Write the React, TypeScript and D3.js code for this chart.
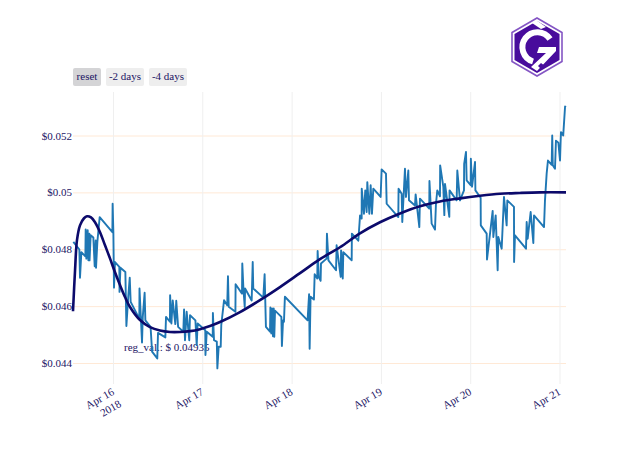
import { useEffect, useRef } from "react";
import * as d3 from "d3";

// hours after Apr 16 2018 00:00 UTC, price in $
const priceSeries: [number, number][] = [
  [-10.66, 0.04826], [-9.04, 0.04799], [-8.87, 0.047], [-8.5, 0.0479], [-7.43, 0.04775], [-7.34, 0.0487],
  [-7.16, 0.04767], [-6.8, 0.04867], [-6.62, 0.04761], [-6.36, 0.04855], [-6.3, 0.04761], [-6.0, 0.04849],
  [-5.28, 0.04841], [-4.92, 0.0474], [-4.65, 0.04831], [-4.56, 0.04735], [-4.2, 0.04826], [-3.58, 0.04913],
  [-0.17, 0.0486], [-0.1, 0.0496], [0.1, 0.0486], [0.27, 0.04665], [0.54, 0.04755], [1.7, 0.04738],
  [1.75, 0.0465], [2.0, 0.04735], [3.32, 0.0472], [3.6, 0.0453], [4.1, 0.04633], [4.5, 0.047],
  [4.75, 0.04615], [7.07, 0.04556], [7.12, 0.04662], [7.8, 0.04472], [8.0, 0.04562], [8.5, 0.04647],
  [8.7, 0.0455], [10.1, 0.04527], [10.5, 0.0444], [11.9, 0.04416], [12.1, 0.04506], [14.07, 0.0449],
  [14.25, 0.04562], [15.3, 0.04545], [15.35, 0.04638], [15.7, 0.04539], [16.05, 0.0462], [16.75, 0.04537],
  [17.0, 0.04619], [17.5, 0.04527], [18.9, 0.0451], [19.1, 0.04588], [19.35, 0.0448], [19.8, 0.0458],
  [20.5, 0.0448], [20.7, 0.04568], [22.15, 0.0455], [22.5, 0.04463], [22.75, 0.04539], [24.8, 0.04515],
  [24.85, 0.04428], [25.2, 0.0451], [26.8, 0.04492], [26.85, 0.04576], [27.15, 0.0448], [27.9, 0.04475],
  [28.05, 0.04381], [28.4, 0.04457], [28.95, 0.04457], [29.1, 0.04533], [29.85, 0.04621], [30.7, 0.04603],
  [30.9, 0.04705], [31.1, 0.04598], [32.9, 0.0458], [32.95, 0.04677], [34.67, 0.04644], [34.75, 0.0475],
  [35.05, 0.04662], [35.4, 0.04597], [35.5, 0.04662], [37.27, 0.0462], [37.55, 0.04755], [37.7, 0.04662],
  [40.4, 0.0463], [40.75, 0.04712], [41.1, 0.04527], [42.2, 0.0451], [42.3, 0.04595], [42.55, 0.04504],
  [42.75, 0.04592], [43.0, 0.04494], [43.2, 0.04592], [43.35, 0.04492], [43.55, 0.04584], [45.25, 0.04562],
  [45.4, 0.0446], [45.7, 0.0455], [45.95, 0.04545], [46.2, 0.04633], [52.3, 0.0455], [52.7, 0.04642],
  [52.85, 0.0445], [53.1, 0.04633], [54.0, 0.04623], [54.2, 0.04712], [54.9, 0.04697], [55.0, 0.04794],
  [55.3, 0.04703], [55.8, 0.04689], [55.9, 0.0475], [57.4, 0.04767], [57.5, 0.04855], [57.9, 0.04761],
  [59.95, 0.04726], [60.1, 0.04814], [61.2, 0.04703], [61.3, 0.04796], [61.75, 0.04697], [61.9, 0.0479],
  [64.15, 0.04761], [64.2, 0.04855], [65.93, 0.0483], [66.4, 0.04919], [66.83, 0.04908], [66.85, 0.05013],
  [67.45, 0.04925], [67.8, 0.05007], [68.17, 0.04931], [68.35, 0.05036], [68.9, 0.04925], [69.25, 0.05025],
  [69.6, 0.04925], [69.96, 0.05013], [71.93, 0.04984], [72.2, 0.05081], [73.37, 0.05066], [73.55, 0.0496],
  [76.68, 0.04913], [76.75, 0.05013], [77.58, 0.04995], [77.75, 0.04896], [78.47, 0.05083], [78.74, 0.04984],
  [79.37, 0.05077], [79.55, 0.04972], [81.16, 0.04954], [81.34, 0.04993], [82.33, 0.04878], [82.5, 0.04978],
  [85.0, 0.04943], [85.05, 0.0504], [85.64, 0.0489], [86.54, 0.04869], [86.8, 0.0496], [87.16, 0.05007],
  [87.88, 0.04986], [87.93, 0.05095], [88.78, 0.05019], [89.05, 0.0492], [89.23, 0.0503], [90.39, 0.04914],
  [90.45, 0.05007], [92.36, 0.04972], [92.54, 0.05077], [93.26, 0.04972], [94.33, 0.05007], [94.38, 0.051],
  [94.87, 0.05142], [95.05, 0.05042], [96.13, 0.05025], [96.18, 0.05118], [96.5, 0.0502], [97.3, 0.05107],
  [97.4, 0.05007], [98.81, 0.04981], [98.85, 0.04884], [100.43, 0.04855], [100.52, 0.04764], [102.04, 0.04935],
  [102.22, 0.04843], [102.85, 0.04919], [103.38, 0.04726], [103.56, 0.04843], [104.46, 0.04802], [105.08, 0.04984],
  [105.8, 0.04884], [105.98, 0.04972], [107.77, 0.04949], [107.8, 0.04755], [108.04, 0.04849], [111.0, 0.04802],
  [111.18, 0.04896], [111.45, 0.04837], [112.25, 0.04931], [112.97, 0.04822], [113.15, 0.04919], [115.84, 0.04878],
  [116.1, 0.04972], [116.55, 0.05066], [116.9, 0.05112], [117.9, 0.05097], [118.05, 0.052], [118.2, 0.05095],
  [118.79, 0.05083], [119.05, 0.05182], [119.7, 0.05175], [120.14, 0.05112], [120.3, 0.05177], [120.4, 0.05212],
  [121.0, 0.052], [121.5, 0.05302], [121.75, 0.053],
];

const regSeries: [number, number][] = [
  [-10.75, 0.04582], [-10.2, 0.04726], [-9.68, 0.04832], [-8.87, 0.04884], [-7.79, 0.04909], [-6.99, 0.04916],
  [-5.91, 0.04912], [-4.84, 0.04895], [-3.49, 0.0486], [-2.15, 0.04814], [-0.81, 0.04768], [0.54, 0.04719],
  [1.88, 0.04674], [3.23, 0.04632], [4.57, 0.04597], [7.26, 0.04551], [9.94, 0.04526], [12.63, 0.04514],
  [15.32, 0.04509], [18.0, 0.04509], [20.69, 0.04512], [23.38, 0.04519], [26.07, 0.0453], [28.76, 0.04544],
  [34.13, 0.04579], [39.5, 0.04621], [44.88, 0.04667], [50.26, 0.04716], [55.63, 0.04765], [61.0, 0.04807],
  [66.38, 0.04856], [71.76, 0.04895], [77.13, 0.04926], [82.5, 0.04951], [87.88, 0.04968], [93.26, 0.04979],
  [98.63, 0.04988], [104.0, 0.04995], [109.38, 0.04998], [114.76, 0.05], [121.75, 0.05],
];

const yTicks = [0.044, 0.046, 0.048, 0.05, 0.052];
const xTickDays = [16, 17, 18, 19, 20, 21];
const buttonLabels = ["reset", "-2 days", "-4 days"];
const regLabel = "reg_val.: $ 0.04935";

const fontFamily = "'Liberation Serif', serif";
const textColor = "#1b1464";

const hourToDate = (h: number) => new Date(Date.UTC(2018, 3, 16) + h * 3600000);

export default function App() {
  const svgRef = useRef<SVGSVGElement>(null);

  useEffect(() => {
    if (!svgRef.current) return;
    const svg = d3.select(svgRef.current);
    svg.selectAll("*").remove();

    const plot = { left: 73, right: 566, top: 92, bottom: 384 };

    const x = d3.scaleUtc()
      .domain([hourToDate(-10.75), hourToDate(121.75)])
      .range([plot.left, plot.right]);
    const y = d3.scaleLinear()
      .domain([0.044, 0.052])
      .range([363, 135.5]);

    // grid + axes
    const yAxis = d3.axisLeft(y)
      .tickValues(yTicks)
      .tickFormat(d => "$" + d)
      .tickSize(-(plot.right - plot.left))
      .tickPadding(1);
    const yG = svg.append("g")
      .attr("transform", `translate(${plot.left},0)`)
      .call(yAxis);
    yG.select(".domain").remove();
    yG.selectAll(".tick line").attr("stroke", "#ffe9d6").attr("stroke-width", 1);
    yG.selectAll("text")
      .attr("fill", textColor)
      .attr("x", -1)
      .style("font-family", fontFamily)
      .style("font-size", "11px");

    const xAxis = d3.axisBottom(x)
      .tickValues(xTickDays.map(d => new Date(Date.UTC(2018, 3, d))))
      .tickFormat(() => "")
      .tickSize(-(plot.bottom - plot.top));
    const xG = svg.append("g")
      .attr("transform", `translate(0,${plot.bottom})`)
      .call(xAxis);
    xG.select(".domain").remove();
    xG.selectAll(".tick line").attr("stroke", "#efefef").attr("stroke-width", 1);

    // rotated tick labels
    const labels = svg.append("g")
      .style("font-family", fontFamily)
      .style("font-size", "11px")
      .attr("fill", textColor);
    xTickDays.forEach(d => {
      const px = x(new Date(Date.UTC(2018, 3, d)));
      const t = labels.append("text")
        .attr("transform", `translate(${px + 2},${plot.bottom + 10}) rotate(-30)`)
        .attr("text-anchor", "end");
      t.append("tspan").attr("x", 0).attr("y", 0).text(`Apr ${d}`);
      if (d === 16) t.append("tspan").attr("x", 0).attr("dy", 14).text("2018");
    });

    // hover label sits under the lines
    svg.append("text")
      .attr("x", x(hourToDate(2.96)))
      .attr("y", y(0.04442))
      .attr("fill", textColor)
      .style("font-family", fontFamily)
      .style("font-size", "11px")
      .text(regLabel);

    const line = d3.line<[number, number]>()
      .x(d => x(hourToDate(d[0])))
      .y(d => y(d[1]));

    svg.append("path")
      .attr("d", line(priceSeries))
      .attr("fill", "none")
      .attr("stroke", "#1f77b4")
      .attr("stroke-width", 1.9)
      .attr("stroke-linejoin", "round");

    svg.append("path")
      .attr("d", line.curve(d3.curveCatmullRom)(regSeries))
      .attr("fill", "none")
      .attr("stroke", "#0c0a6b")
      .attr("stroke-width", 2.6);

    // range buttons
    const btnWidths = [28, 38, 38];
    let bx = 73;
    buttonLabels.forEach((b, i) => {
      const g = svg.append("g").attr("transform", `translate(${bx},68)`);
      g.append("rect")
        .attr("width", btnWidths[i])
        .attr("height", 18)
        .attr("rx", 2)
        .attr("fill", i === 0 ? "#d4d4d6" : "#eeeeee");
      g.append("text")
        .attr("x", btnWidths[i] / 2)
        .attr("y", 12)
        .attr("text-anchor", "middle")
        .attr("fill", textColor)
        .style("font-family", fontFamily)
        .style("font-size", "11px")
        .text(b);
      bx += btnWidths[i] + 5;
    });

    // logo
    const logo = svg.append("g").attr("transform", "translate(537,47)");
    const hex = (w: number, h: number) =>
      `M0,${-h}L${w},${-h / 2}L${w},${h / 2}L0,${h}L${-w},${h / 2}L${-w},${-h / 2}Z`;
    logo.append("path").attr("d", hex(25, 29)).attr("fill", "#fff").attr("stroke", "#8455c4").attr("stroke-width", 1.6);
    logo.append("path").attr("d", hex(22.5, 26)).attr("fill", "#480c9c");
    // ring of the G
    logo.append("path")
      .attr("d", "M13,-8 A15,15 0 1 0 -4,14.5")
      .attr("fill", "none")
      .attr("stroke", "#fff")
      .attr("stroke-width", 6);
    // bar and diagonal of the G
    logo.append("path")
      .attr("d", "M2,0 L19,0 L19,4 L0,24 L-6,20 L9,6 L0,6 Z")
      .attr("fill", "#fff");
    logo.append("path").attr("d", "M-5,-24 L-1,-27 L9,-20 L4,-18 Z").attr("fill", "#fff");
    logo.append("path").attr("d", "M1,19 L4,16 L8,19 L4,22 Z").attr("fill", "#480c9c");
  }, []);

  return (
    <svg
      ref={svgRef}
      width={640}
      height={457}
      style={{ position: "absolute", top: 0, left: 0, display: "block", background: "#fff" }}
    />
  );
}
